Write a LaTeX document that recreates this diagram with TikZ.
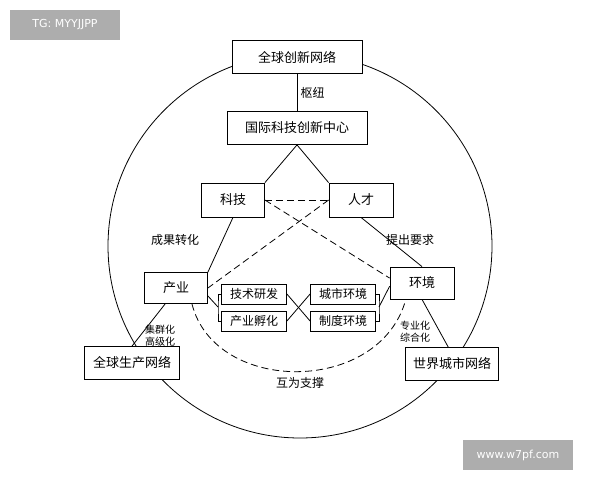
\documentclass[tikz,border=0pt]{standalone}
\usepackage{fontspec}
\newfontfamily\cjk{Noto Sans CJK SC}
\setsansfont{DejaVu Sans}
\usetikzlibrary{calc}
\tikzset{
box/.style={draw, thick, fill=white, inner sep=0pt, font=\cjk\fontsize{13}{15}\selectfont},
sbox/.style={draw, thick, fill=white, inner sep=0pt, font=\cjk\fontsize{12}{14}\selectfont, minimum width=65pt, minimum height=20pt},
lbl/.style={font=\cjk\fontsize{12}{14}\selectfont},
slbl/.style={font=\cjk\fontsize{10}{12}\selectfont, align=center, inner sep=1pt},
dline/.style={thick, dash pattern=on 7pt off 4pt},
wmark/.style={fill=black!32, text=white, font=\sffamily\fontsize{11}{13}\selectfont}
}
\begin{document}
\begin{tikzpicture}[x=1pt,y=-1pt]
\useasboundingbox (0,0) rectangle (600,480);

\draw[thick] (300,246) circle (192);

\node[box, minimum width=130pt, minimum height=33pt] (gin) at (297,57) {全球创新网络};
\node[box, minimum width=140pt, minimum height=33pt] (itc) at (297,128) {国际科技创新中心};
\node[box, minimum width=63pt, minimum height=34pt] (kj) at (233,200) {科技};
\node[box, minimum width=64pt, minimum height=34pt] (rc) at (361,200) {人才};
\node[box, minimum width=63pt, minimum height=31pt] (cy) at (176,288) {产业};
\node[box, minimum width=64pt, minimum height=32pt] (hj) at (422,283) {环境};
\node[box, minimum width=95pt, minimum height=33pt] (gpn) at (132,363) {全球生产网络};
\node[box, minimum width=93pt, minimum height=33pt] (wcn) at (452,364) {世界城市网络};

\node[sbox] (jsyf) at (254,294) {技术研发};
\node[sbox] (cyfh) at (254,321) {产业孵化};
\node[sbox] (cshj) at (343,294) {城市环境};
\node[sbox] (zdhj) at (343,321) {制度环境};

% solid links
\draw[thick] (gin) -- node[lbl, right] {枢纽} (itc);
\draw[thick] (itc.south) -- (kj.north east);
\draw[thick] (itc.south) -- (rc.north west);
\draw[thick] (kj.south) -- (cy.north east);
\draw[thick] (rc.south) -- (hj.north);
\draw[thick] ($(cy.south west)!0.33!(cy.south east)$) -- (gpn.north);
\draw[thick] ($(hj.south west)!0.5!(hj.south east)$) -- ($(wcn.north west)!0.46!(wcn.north east)$);

\node[lbl] (cgzh) at (175,240) {成果转化};
\node[lbl] (tcyq) at (410,240) {提出要求};
\node[slbl] (jqh) at (160,336) {集群化\\高级化};
\node[slbl] (zyh) at (415,332) {专业化\\综合化};
\node[lbl] (hwzc) at (300,383) {互为支撑};

% dashed links
\draw[dline] (kj.east) -- (rc.west);
\draw[dline] (kj.east) -- ($(hj.north west)!0.35!(hj.south west)$);
\draw[dline] (rc.west) -- (cy.east);
\draw[dline] ($(cy.south west)!0.75!(cy.south east)$) .. controls (215,395) and (380,395) .. ($(hj.south west)!0.25!(hj.south east)$);

% brackets
\draw[thick] (jsyf.west) -| (218,307) |- (cyfh.west);
\draw[thick] (218,307) -- ($(cy.north east)!0.75!(cy.south east)$);
\draw[thick] (cshj.east) -| (379,307) |- (zdhj.east);
\draw[thick] (379,307) -- ($(hj.north west)!0.6!(hj.south west)$);
\draw[thick] (jsyf.east) -- (zdhj.west);
\draw[thick] (cyfh.east) -- (cshj.west);

% watermarks
\node[wmark, minimum width=110pt, minimum height=30pt] (tg) at (65,25) {TG: MYYJJPP};
\node[wmark, minimum width=110pt, minimum height=30pt] (web) at (518,455) {www.w7pf.com};
\end{tikzpicture}
\end{document}
